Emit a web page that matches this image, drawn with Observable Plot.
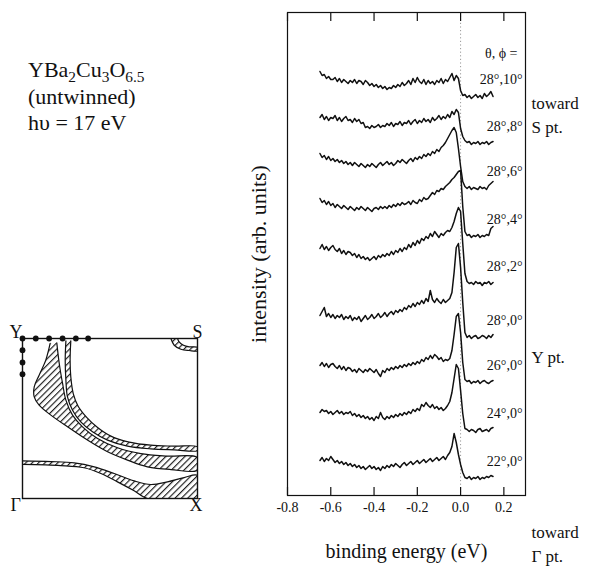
<!DOCTYPE html>
<html><head><meta charset="utf-8">
<script src="https://cdn.jsdelivr.net/npm/d3@7"></script>
<script src="https://cdn.jsdelivr.net/npm/@observablehq/plot@0.6"></script>
<style>
body{margin:0;background:#fff;}
#wrap{position:relative;width:601px;height:567px;overflow:hidden;font-family:"Liberation Serif","Times New Roman",serif;color:#111;}
#main{position:absolute;left:0;top:0;}
#title{position:absolute;left:28px;top:57px;font-size:22px;line-height:26.5px;white-space:nowrap;font-family:"Liberation Serif",serif;}
#title sub{font-size:0.7em;vertical-align:-0.3em;line-height:0;}
#bz{position:absolute;left:0;top:315px;}
</style></head><body>
<div id="wrap"><div id="main"></div>
<div id="title">YBa<sub>2</sub>Cu<sub>3</sub>O<sub>6.5</sub><br>(untwinned)<br>hυ = 17 eV</div>
<div id="bz"></div></div>
<script>
// binding energy grid (eV)
const energy = [-0.65,-0.64,-0.63,-0.62,-0.61,-0.60,-0.59,-0.58,-0.57,-0.56,
-0.55,-0.54,-0.53,-0.52,-0.51,-0.50,-0.49,-0.48,-0.47,-0.46,
-0.45,-0.44,-0.43,-0.42,-0.41,-0.40,-0.39,-0.38,-0.37,-0.36,
-0.35,-0.34,-0.33,-0.32,-0.31,-0.30,-0.29,-0.28,-0.27,-0.26,
-0.25,-0.24,-0.23,-0.22,-0.21,-0.20,-0.19,-0.18,-0.17,-0.16,
-0.15,-0.14,-0.13,-0.12,-0.11,-0.10,-0.09,-0.08,-0.07,-0.06,
-0.05,-0.04,-0.03,-0.02,-0.01,0.00,0.01,0.02,0.03,0.04,
0.05,0.06,0.07,0.08,0.09,0.10,0.11,0.12,0.13,0.14,0.15];

const angleLabels = ["28°,10°","28°,8°","28°,6°","28°,4°","28°,2°","28°,0°","26°,0°","24°,0°","22°,0°"];
// vertical offsets of the stacked spectra (arb. units)
const offsets = [39.9, 35.2, 30.7, 25.9, 21.2, 15.8, 11.3, 6.5, 1.7];

const t28_10 = [2.5,2.1,2.2,1.8,2.0,1.7,1.7,1.9,1.5,1.8, 1.4,1.7,1.5,1.3,1.6,1.4,1.7,1.3,1.6,1.5,
1.2,1.6,1.4,1.1,1.3,1.0,1.2,0.9,1.1,0.8, 1.0,0.7,0.9,0.8,1.1,0.9,1.2,1.0,1.4,1.1,
1.3,1.6,1.2,1.8,1.4,1.9,1.5,1.3,1.7,1.2, 1.6,1.3,1.5,1.2,1.6,1.4,1.8,1.3,1.7,1.5,
1.9,2.3,1.6,2.1,1.8,0.6,0.1,0.2,-0.1,0.1, -0.2,0.0,0.2,-0.1,0.1,-0.2,0.3,0.0,0.2,0.5,0.0];
const t28_8 = [2.6,2.9,2.4,2.7,2.3,2.6,2.5,2.8,2.3,2.6, 2.2,2.5,2.7,2.3,2.4,2.1,2.5,2.2,2.4,2.0,
2.1,1.6,1.7,1.5,1.8,1.6,1.7,1.9,1.6,1.8, 1.7,2.0,1.8,2.1,1.7,2.0,1.9,2.2,1.8,2.1,
2.0,2.3,1.9,2.2,2.4,2.0,2.3,2.1,2.5,2.2, 2.4,2.1,2.6,2.3,2.5,2.8,2.4,2.7,2.5,2.9,
2.6,3.2,2.9,3.4,3.1,1.5,0.7,0.3,0.1,0.2, -0.1,0.1,0.0,0.2,-0.1,0.1,0.0,0.2,-0.1,0.1,0.2];
const t28_6 = [3.5,3.1,3.3,2.9,3.2,2.8,3.0,2.7,2.9,2.6, 2.8,2.5,2.7,2.4,2.6,2.3,2.6,2.4,2.2,2.5,
2.3,2.1,2.4,2.2,2.5,2.3,2.1,2.4,2.6,2.3, 2.5,2.7,2.4,2.6,2.3,2.5,2.8,2.6,2.9,2.7,
2.5,2.8,3.0,2.7,3.1,2.9,3.2,3.0,3.4,3.2, 3.5,3.3,3.7,3.5,3.9,3.7,4.1,4.3,4.6,5.0,
5.4,5.8,6.1,5.6,4.0,2.2,0.7,0.2,0.0,0.2, -0.1,0.1,0.0,-0.1,0.2,0.0,0.1,-0.1,0.3,0.5,0.7];
const t28_4 = [3.8,3.4,3.6,3.2,3.5,3.1,3.3,2.9,3.2,3.0, 2.8,3.1,2.9,2.7,3.0,2.8,2.6,2.9,2.7,3.0,
2.8,2.6,2.9,2.7,2.5,2.8,2.9,2.7,3.0,2.8, 3.0,2.8,3.1,2.9,3.2,3.0,3.3,3.1,3.4,3.2,
3.3,3.5,3.2,3.6,3.4,3.3,3.7,3.5,3.9,3.7, 3.8,4.1,4.4,4.2,4.6,4.5,4.8,4.7,5.0,5.2,
5.4,5.7,5.9,6.2,6.5,6.6,3.0,0.5,0.1,0.2, -0.1,0.1,0.0,0.2,-0.1,0.1,0.0,0.2,0.1,0.8,1.0];
const t28_2 = [3.5,3.9,3.4,3.7,3.3,3.6,3.8,3.4,3.2,3.5, 3.0,3.3,2.9,3.2,3.1,2.8,3.0,2.6,2.9,2.5,
2.7,2.4,2.6,2.3,2.5,2.7,2.4,2.8,2.6,2.9, 2.7,3.0,2.8,3.2,2.9,3.3,3.1,3.5,3.2,3.6,
3.4,3.9,3.6,4.1,3.8,4.3,4.0,4.5,4.3,4.7, 4.5,5.0,4.7,5.2,4.9,4.6,5.0,4.8,5.1,5.3,
5.2,5.6,6.2,7.0,7.6,7.2,4.0,1.0,0.2,0.0, 0.1,-0.1,0.2,0.0,0.1,-0.2,0.1,0.0,0.2,-0.1,0.1];
const t28_0 = [2.2,2.6,3.0,2.1,2.4,2.0,2.3,1.9,2.2,2.0, 2.3,1.8,2.1,1.9,2.2,1.7,2.0,1.8,2.1,1.6,
1.9,2.2,1.8,2.0,2.3,1.9,2.1,2.4,2.0,2.2, 2.5,2.1,2.4,2.6,2.3,2.7,2.5,2.8,2.6,3.0,
2.8,3.2,3.0,3.4,3.1,3.5,3.3,3.7,3.4,3.9, 3.6,4.7,3.8,3.5,3.9,3.6,3.4,3.8,3.5,3.7,
3.9,4.5,6.5,9.0,9.4,7.0,3.5,0.5,0.0,0.2, -0.1,0.1,0.2,-0.1,0.0,0.2,0.1,-0.1,0.2,0.0,0.3];
const t26_0 = [1.7,2.0,1.6,1.9,1.5,1.8,1.9,1.6,1.4,1.7, 1.3,1.6,1.2,1.5,1.4,1.1,1.3,1.0,1.4,1.2,
1.0,1.3,1.1,1.4,1.2,1.0,1.3,0.9,0.6,1.2, 1.0,1.4,1.2,1.5,1.3,1.6,1.4,1.7,1.5,1.8,
1.6,1.9,1.7,2.0,1.8,2.1,1.9,2.3,2.1,2.5, 2.3,2.7,2.4,2.8,2.6,2.3,2.5,2.1,2.3,2.2,
2.4,3.2,4.8,6.6,6.9,5.0,2.0,0.3,0.1,0.2, -0.1,0.1,0.0,0.2,-0.1,0.1,0.2,0.0,-0.1,0.1,0.2];
const t24_0 = [1.8,2.1,1.9,2.0,1.7,1.9,1.6,1.8,2.0,1.7, 1.9,1.6,1.8,1.7,1.9,1.5,1.7,1.4,1.6,1.3,
1.5,1.2,1.4,1.1,1.3,1.0,1.4,1.2,1.8,1.3, 1.1,1.4,1.2,1.5,1.3,1.6,1.4,1.7,1.5,1.8,
1.6,1.9,1.7,2.1,1.9,2.2,2.0,2.6,2.4,2.8, 2.5,2.3,2.6,2.2,2.4,2.1,2.3,2.0,2.2,2.5,
2.9,3.8,5.2,6.6,6.2,4.0,1.7,0.2,0.1,-0.1, 0.1,0.0,-0.2,0.1,0.2,-0.1,0.0,0.1,-0.1,0.2,0.3];
const t22_0 = [1.8,2.1,1.7,2.0,1.8,2.2,1.9,1.6,1.8,1.5, 1.7,1.4,1.6,1.3,1.5,1.2,1.4,1.1,1.3,1.0,
1.2,0.9,1.1,1.3,1.0,1.2,0.9,1.1,0.8,1.2, 1.0,1.3,1.1,1.4,1.2,1.5,1.3,1.1,1.4,1.6,
1.3,1.5,1.7,1.4,1.6,1.8,1.5,1.7,1.9,1.6, 1.8,2.0,1.7,1.9,2.1,1.8,2.0,2.2,1.9,2.3,
2.6,3.2,4.5,3.6,2.4,1.4,0.6,0.1,0.0,0.2, -0.1,0.1,0.0,0.2,-0.1,0.1,0.0,0.2,0.1,0.3,0.2];
const spectra = [t28_10, t28_8, t28_6, t28_4, t28_2, t28_0, t26_0, t24_0, t22_0];

const xTicks = [-0.8, -0.6, -0.4, -0.2, 0.0, 0.2];

// Brillouin-zone sketch (unit square: Γ at 0,0; Y at 0,1; S at 1,1; X at 1,0)
const bandInner = [[0.248,0.985],[0.244,0.865],[0.248,0.740],[0.257,0.635],[0.286,0.552],[0.333,0.479],[0.400,0.417],[0.486,0.365],[0.600,0.327],[0.733,0.310],[0.867,0.304],[1.0,0.300],
[1.0,0.323],[0.867,0.327],[0.733,0.333],[0.610,0.352],[0.505,0.390],[0.429,0.444],[0.368,0.506],[0.318,0.577],[0.290,0.656],[0.276,0.760],[0.272,0.865],[0.276,0.985]];
const bandMiddle = [[0.158,0.969],[0.133,0.865],[0.095,0.771],[0.067,0.698],[0.067,0.635],[0.095,0.583],[0.162,0.521],[0.257,0.448],[0.371,0.365],[0.486,0.292],[0.600,0.240],[0.714,0.198],[0.848,0.181],[1.0,0.177],
[1.0,0.256],[0.829,0.265],[0.676,0.281],[0.543,0.317],[0.429,0.375],[0.343,0.448],[0.286,0.521],[0.248,0.615],[0.229,0.719],[0.210,0.844],[0.196,0.973]];
const bandLower = [[0,0.235],[0.162,0.231],[0.295,0.223],[0.410,0.198],[0.524,0.156],[0.638,0.110],[0.733,0.0875],[0.829,0.104],[0.924,0.131],[1.0,0.144],
[1.0,0],[0.714,0],[0.638,0.048],[0.543,0.104],[0.448,0.156],[0.352,0.192],[0.219,0.206],[0,0.213]];
const bandCorner = [[0.848,1.0],[0.867,0.958],[0.905,0.933],[0.952,0.925],[1.0,0.923],[1.0,0.944],[0.952,0.948],[0.920,0.958],[0.895,0.979],[0.886,1.0]];
const dotsTop = [0, 0.076, 0.152, 0.229, 0.305, 0.375];
const dotsLeft = [0.927, 0.850, 0.777];

// ---- main panel ----
const rows = spectra.flatMap((s, k) => s.map((v, i) => ({E: energy[i], I: offsets[k] + v, k})));
const labelRows = angleLabels.map((label, k) => ({label, y: offsets[k]}));
const fmt = d => d.toFixed(1);
const serif = "'Liberation Serif', 'Times New Roman', serif";

const main = Plot.plot({
  width: 601, height: 567,
  marginLeft: 287, marginRight: 76, marginTop: 12, marginBottom: 72,
  x: {domain: [-0.8, 0.3]},
  y: {domain: [0, 48.3], axis: null},
  style: {fontFamily: serif, color: "#111", background: "white", overflow: "visible"},
  marks: [
    Plot.ruleX([0], {stroke: "#999", strokeDasharray: "1.2,2.4", strokeWidth: 1}),
    Plot.line(rows, {x: "E", y: "I", z: "k", stroke: "#111", strokeWidth: 1.5, strokeLinejoin: "round"}),
    Plot.frame({stroke: "#111", strokeWidth: 1.2}),
    Plot.axisX(xTicks, {anchor: "bottom", tickSize: -8, tickFormat: () => "", label: null, strokeWidth: 1.2}),
    Plot.axisX(xTicks, {anchor: "top", tickSize: -8, tickFormat: () => "", label: null, strokeWidth: 1.2}),
    Plot.axisX(xTicks, {anchor: "bottom", tickSize: 0, tickPadding: 7, tickFormat: fmt, label: null, fontSize: 14}),
    Plot.text(["binding energy (eV)"], {frameAnchor: "bottom", dy: 62, fontSize: 20}),
    Plot.text(["intensity (arb. units)"], {frameAnchor: "left", dx: -29, rotate: -90, textAnchor: "middle", fontSize: 22}),
    Plot.text(labelRows, {y: "y", text: "label", frameAnchor: "right", dx: -3, dy: -17, textAnchor: "end", fontSize: 14}),
    Plot.text(["θ, ϕ ="], {frameAnchor: "top-right", dx: -8, dy: 36, textAnchor: "end", fontSize: 14}),
    Plot.text(["toward\nS pt."], {frameAnchor: "top-right", dx: 6, dy: 80, textAnchor: "start", fontSize: 17, lineHeight: 1.4}),
    Plot.text(["Y pt."], {frameAnchor: "top-right", dx: 6, dy: 338, textAnchor: "start", fontSize: 17}),
    Plot.text(["toward\nΓ pt."], {frameAnchor: "bottom-right", dx: 6, dy: 66, textAnchor: "start", fontSize: 17, lineHeight: 1.4})
  ]
});
document.getElementById("main").appendChild(main);

// ---- Brillouin zone panel ----
const polys = [bandInner, bandMiddle, bandLower, bandCorner]
  .flatMap((p, id) => p.map(([u, v]) => ({u, v, id})));
const dots = [...dotsTop.map(u => ({u, v: 1})), ...dotsLeft.map(v => ({u: 0, v}))];

const bz = Plot.plot({
  width: 215, height: 200,
  marginLeft: 22, marginRight: 18, marginTop: 23, marginBottom: 17,
  x: {domain: [0, 1], axis: null},
  y: {domain: [0, 1], axis: null},
  style: {fontFamily: serif, color: "#111", background: "transparent", overflow: "visible"},
  marks: [
    Plot.line(polys, {x: "u", y: "v", z: "id", fill: "url(#hatch)", stroke: "#111", strokeWidth: 1.2, curve: "catmull-rom", clip: true}),
    Plot.frame({stroke: "#111", strokeWidth: 1.4}),
    Plot.dot(dots, {x: "u", y: "v", r: 2.9, fill: "#111", stroke: "none"}),
    Plot.text(["Y"], {frameAnchor: "top-left", dx: -13, dy: -13, fontSize: 18}),
    Plot.text(["S"], {frameAnchor: "top-right", dx: 5, dy: -13, fontSize: 18}),
    Plot.text(["Γ"], {frameAnchor: "bottom-left", dx: -12, dy: 12, fontSize: 18}),
    Plot.text(["X"], {frameAnchor: "bottom-right", dx: 5, dy: 12, fontSize: 18})
  ]
});
const ns = "http://www.w3.org/2000/svg";
const defs = document.createElementNS(ns, "defs");
defs.innerHTML = '<pattern id="hatch" patternUnits="userSpaceOnUse" width="4.5" height="4.5" patternTransform="rotate(45)"><rect width="4.5" height="4.5" fill="white"/><line x1="0.6" y1="0" x2="0.6" y2="4.5" stroke="#111" stroke-width="1.1"/></pattern>';
bz.insertBefore(defs, bz.firstChild);
document.getElementById("bz").appendChild(bz);
</script>
</body></html>
